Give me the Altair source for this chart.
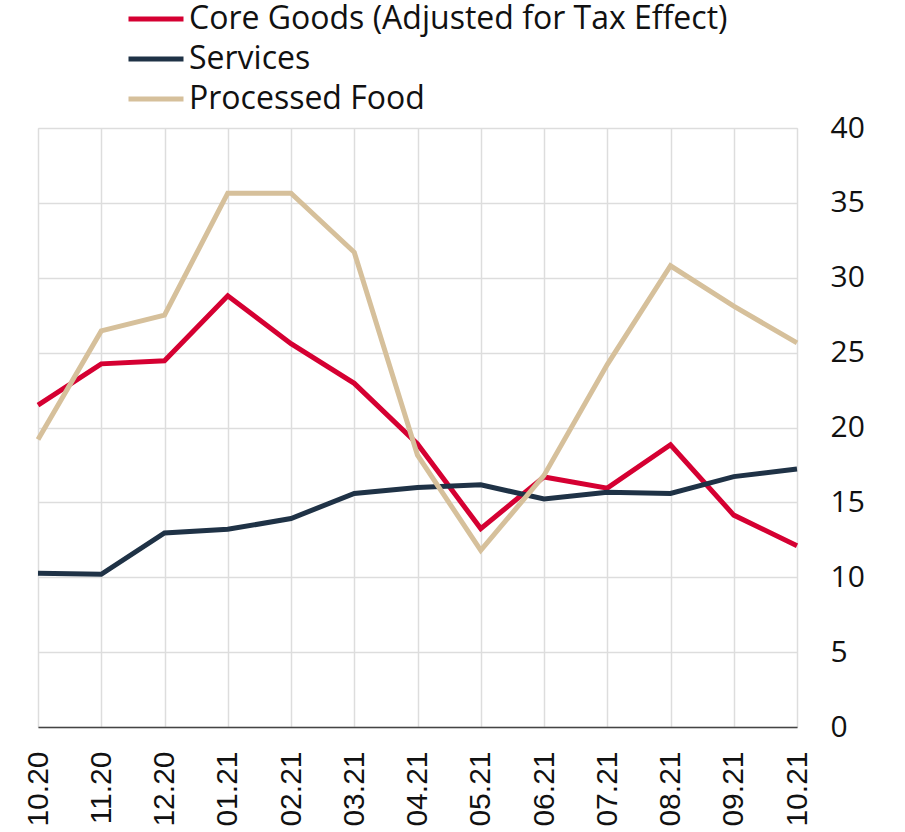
import altair as alt
import pandas as pd

months = ["10.20", "11.20", "12.20", "01.21", "02.21", "03.21", "04.21",
          "05.21", "06.21", "07.21", "08.21", "09.21", "10.21"]

core_goods = [21.5, 24.25, 24.45, 28.8, 25.6, 22.95, 18.9,
              13.25, 16.7, 15.95, 18.85, 14.15, 12.1]
services = [10.27, 10.2, 12.96, 13.2, 13.92, 15.6, 16.0,
            16.17, 15.23, 15.68, 15.6, 16.72, 17.23]
processed_food = [19.2, 26.45, 27.5, 35.65, 35.65, 31.7, 18.15,
                  11.8, 16.8, 24.2, 30.8, 28.1, 25.65]

series_names = ["Core Goods (Adjusted for Tax Effect)", "Services", "Processed Food"]
series_colors = ["#d50032", "#1f3246", "#d6c09b"]

rows = []
for name, vals in zip(series_names, [core_goods, services, processed_food]):
    for m, v in zip(months, vals):
        rows.append({"month": m, "series": name, "value": v})
df = pd.DataFrame(rows)

chart = alt.Chart(df).mark_line(strokeWidth=5, strokeJoin="miter").encode(
    x=alt.X(
        "month:N",
        sort=months,
        scale=alt.Scale(padding=0),
        axis=alt.Axis(
            title=None,
            labelAngle=-90,
            labelAlign="right",
            labelBaseline="middle",
            labelFont="Liberation Sans",
            labelFontSize=30,
            labelColor="#111111",
            labelPadding=24,
            ticks=False,
            domainColor="#444444",
            domainWidth=1.5,
            grid=True,
            gridColor="#dddddd",
            gridWidth=1.5,
        ),
    ),
    y=alt.Y(
        "value:Q",
        scale=alt.Scale(domain=[0, 40], nice=False),
        axis=alt.Axis(
            title=None,
            orient="right",
            values=[0, 5, 10, 15, 20, 25, 30, 35, 40],
            labelFont="Open Sans",
            labelFontSize=30,
            labelColor="#111111",
            labelPadding=33,
            labelAlign="left",
            ticks=False,
            domain=False,
            grid=True,
            gridColor="#dddddd",
            gridWidth=1.5,
        ),
    ),
    color=alt.Color(
        "series:N",
        sort=series_names,
        scale=alt.Scale(domain=series_names, range=series_colors),
        legend=alt.Legend(
            title=None,
            orient="none",
            legendX=88,
            legendY=-129,
            symbolType="stroke",
            symbolSize=3025,
            symbolStrokeWidth=5,
            labelFont="Open Sans",
            labelFontSize=32,
            labelColor="#111111",
            labelOffset=3,
            rowPadding=0,
            clipHeight=40,
            labelLimit=800,
        ),
    ),
).properties(
    width=759,
    height=599,
    autosize="none",
    padding={"left": 38, "top": 128, "right": 108, "bottom": 105},
).configure_view(
    stroke=None
).configure(
    background="white"
)

chart.save("out.html", embed_options={"renderer": "svg", "actions": False})
